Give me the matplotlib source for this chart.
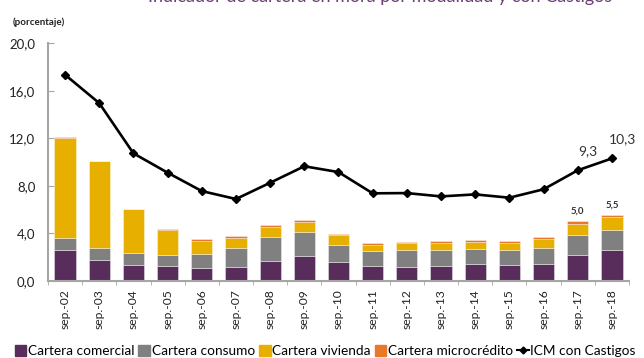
import matplotlib
matplotlib.use("Agg")
import matplotlib.pyplot as plt
import numpy as np
from matplotlib.lines import Line2D
from matplotlib.patches import Patch

plt.rcParams['font.family'] = ['Lato', 'DejaVu Sans']

periodos = ["sep.-02", "sep.-03", "sep.-04", "sep.-05", "sep.-06", "sep.-07", "sep.-08",
            "sep.-09", "sep.-10", "sep.-11", "sep.-12", "sep.-13", "sep.-14", "sep.-15",
            "sep.-16", "sep.-17", "sep.-18"]

comercial = [2.58, 1.74, 1.35, 1.21, 1.07, 1.18, 1.68, 2.08, 1.60, 1.21, 1.15, 1.26, 1.43, 1.35, 1.43, 2.14, 2.61]
consumo = [0.99, 1.04, 1.01, 0.95, 1.15, 1.57, 2.03, 1.99, 1.43, 1.26, 1.46, 1.33, 1.26, 1.26, 1.35, 1.71, 1.68]
vivienda = [8.47, 7.27, 3.64, 2.11, 1.15, 0.87, 0.84, 0.87, 0.79, 0.56, 0.56, 0.56, 0.57, 0.56, 0.70, 0.92, 1.05]
microcredito = [0.06, 0.05, 0.05, 0.08, 0.11, 0.12, 0.14, 0.17, 0.11, 0.14, 0.11, 0.17, 0.19, 0.20, 0.23, 0.23, 0.16]
icm_castigos = [17.35, 14.96, 10.73, 9.10, 7.55, 6.88, 8.25, 9.64, 9.15, 7.36, 7.38, 7.10, 7.27, 6.99, 7.70, 9.30, 10.30]

# etiquetas de total sobre las barras
total_etiquetas = {15: 5.0, 16: 5.5}
icm_etiquetas = {15: 9.3, 16: 10.3}

c_comercial = "#582c5b"
c_consumo = "#808080"
c_vivienda = "#e7b000"
c_micro = "#e8782a"

fig = plt.figure(figsize=(6.44, 3.58), dpi=100)
ax = fig.add_axes([0.0745, 0.216, 0.9022, 0.663])

x = np.arange(len(periodos))
w = 0.62
base = np.zeros(len(periodos))
for vals, col in [(comercial, c_comercial), (consumo, c_consumo),
                  (vivienda, c_vivienda), (microcredito, c_micro)]:
    ax.bar(x, vals, w, bottom=base, color=col, edgecolor=(1, 1, 1, 0.45), linewidth=0.6, zorder=2)
    base = base + np.array(vals)

ax.plot(x, icm_castigos, color="black", lw=1.9, marker="D", ms=4, zorder=3)

for i, v in total_etiquetas.items():
    ax.text(x[i], v + 0.45, f"{v:.1f}".replace(".", ","), ha="center", va="bottom",
            fontsize=7, fontweight="bold", color="#333333")
for i, v in icm_etiquetas.items():
    ax.text(x[i] + 0.3, v + 1.1, f"{v:.1f}".replace(".", ","), ha="center", va="bottom",
            fontsize=10, color="#333333")

ax.set_xlim(-0.5, len(periodos) - 0.5)
ax.set_ylim(0, 20)
ax.set_yticks([0, 4, 8, 12, 16, 20])
ax.set_yticklabels(["0,0", "4,0", "8,0", "12,0", "16,0", "20,0"], fontsize=9.5, color="#222222")
ax.set_xticks(x)
ax.set_xticklabels(periodos, rotation=90, fontsize=8.7, color="#222222")
ax.set_xticks(np.arange(-0.5, len(periodos), 1), minor=True)
ax.tick_params(axis="x", which="major", length=0, pad=6)
ax.tick_params(axis="x", which="minor", length=3, color="#a6a6a6", direction="out")
ax.tick_params(axis="y", length=4, color="#a6a6a6", direction="in", pad=9)

for s in ["top", "right"]:
    ax.spines[s].set_visible(False)
for s in ["left", "bottom"]:
    ax.spines[s].set_color("#a6a6a6")
    ax.spines[s].set_linewidth(1.5)

handles = [Patch(color=c_comercial, label="Cartera comercial"),
           Patch(color=c_consumo, label="Cartera consumo"),
           Patch(color=c_vivienda, label="Cartera vivienda"),
           Patch(color=c_micro, label="Cartera microcrédito"),
           Line2D([0], [0], color="black", lw=1.5, marker="D", ms=3.5, label="ICM con Castigos")]
fig.legend(handles=handles, loc="lower center", bbox_to_anchor=(0.505, -0.02), ncol=5,
           frameon=False, fontsize=9.8, handlelength=0.85, handleheight=0.85,
           handletextpad=0.12, columnspacing=0.3, borderaxespad=0.2)

fig.text(0.02, 0.93, "(porcentaje)", fontsize=7, fontweight="bold", color="#222222")
fig.text(0.59, 0.9945, "Indicador de cartera en mora por modalidad y con Castigos",
         fontsize=13, color="#6b3d74", ha="center", va="baseline")

fig.savefig("out.png", dpi=100)
